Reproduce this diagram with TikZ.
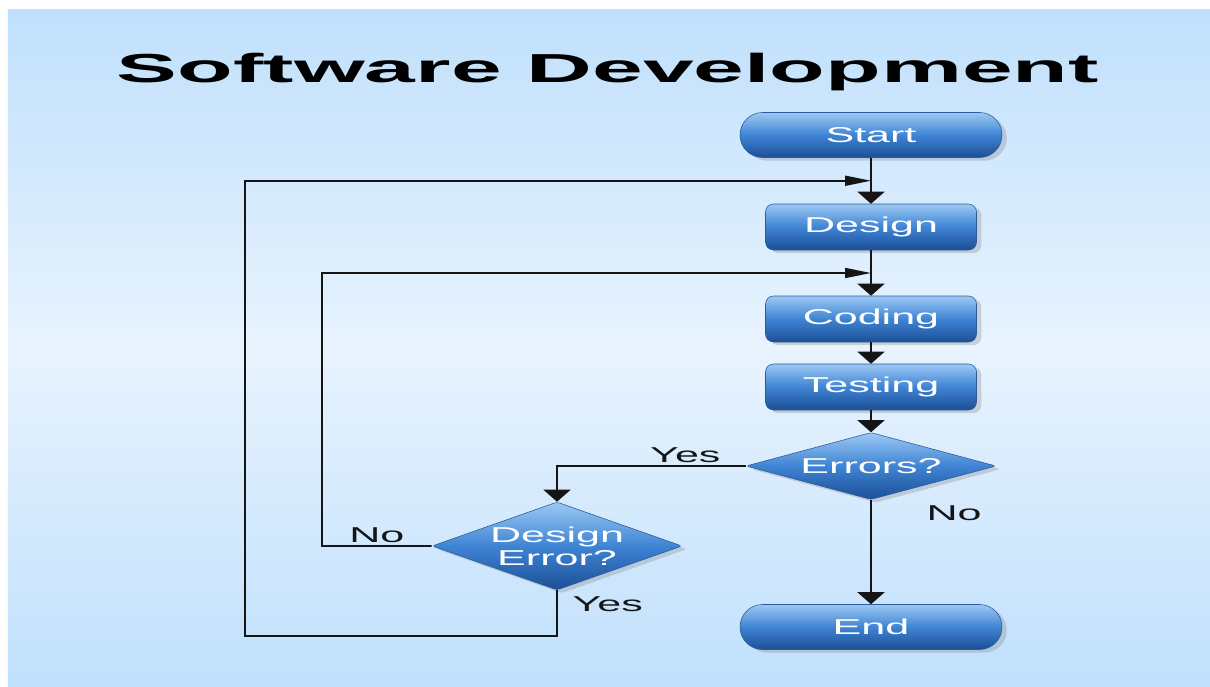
\documentclass[tikz,border=0pt]{standalone}
\usepackage{fontspec}
\setmainfont[FakeStretch=2.0]{Liberation Sans}
\newfontfamily\titlefont[FakeStretch=2.25]{Liberation Sans}
\usetikzlibrary{shapes, arrows.meta, shadows}

\definecolor{bgedge}{HTML}{C0E0FC}
\definecolor{bgmid}{HTML}{E8F3FE}
\definecolor{boxtop}{HTML}{9CC9F3}
\definecolor{boxmid}{HTML}{3F84D4}
\definecolor{boxbottom}{HTML}{1C4F96}
\definecolor{boxline}{HTML}{2A5A98}
\definecolor{wire}{HTML}{151515}

\tikzstyle{blueshade} = [draw=boxline, top color=boxtop, bottom color=boxbottom, middle color=boxmid, text=white, font=\fontsize{15.3}{16.4}\selectfont, drop shadow={opacity=0.3, shadow xshift=0.12cm, shadow yshift=-0.08cm}]
\tikzstyle{startstop} = [rounded rectangle, minimum width=6.55cm, minimum height=1.125cm, inner sep=0pt, text centered, blueshade]
\tikzstyle{process} = [rectangle, rounded corners=0.2cm, minimum width=5.275cm, minimum height=1.15cm, inner sep=0pt, text centered, blueshade]
\tikzstyle{decision} = [diamond, aspect=3.73, rounded corners=2pt, minimum width=6.25cm, minimum height=1.675cm, inner sep=0pt, align=center, blueshade]
\tikzstyle{answer} = [text=wire, inner sep=2pt, font=\fontsize{15.3}{16.4}\selectfont]
\tikzstyle{arrow} = [line width=1.2pt, draw=wire, -{Triangle[length=0.3cm, width=0.675cm]}]
\tikzstyle{sidearrow} = [line width=1.2pt, draw=wire, -{Triangle[length=0.65cm, width=0.25cm]}]

\begin{document}
\begin{tikzpicture}
% backdrop
\useasboundingbox (0,0) rectangle (30.25,-17.175);
\fill[white] (0,0) rectangle (30.25,-17.175);
\shade[top color=bgedge, bottom color=bgedge, middle color=bgmid] (0.2,-0.225) rectangle (30.25,-17.175);
\node (title) at (15.2,-1.8) {\titlefont\bfseries\fontsize{28.8}{32}\selectfont Software Development};

% main column
\node (start) [startstop] at (21.775,-3.375) {Start};
\node (design) [process, node distance=2.3cm, below of=start] {Design};
\node (coding) [process, node distance=2.3cm, below of=design] {Coding};
\node (testing) [process, node distance=1.7cm, below of=coding] {Testing};
\node (errors) [decision, node distance=1.975cm, below of=testing] {Errors?};
\node (end) [startstop, node distance=4.025cm, below of=errors] {End};
\node (deserr) [decision, aspect=2.84, minimum height=2.2cm, node distance=2cm, below of=errors, xshift=-7.85cm] {Design\\Error?};

% loop corners
\coordinate (nocorner) at (8.05,-13.65);
\coordinate (yescorner) at (6.125,-15.9);

\draw[arrow] (start) -- coordinate[midway] (designin) (design);
\draw[arrow] (design) -- coordinate[midway] (codingin) (coding);
\draw[arrow] (coding) -- (testing);
\draw[arrow] (testing) -- (errors);
\draw[arrow] (errors) -- node[answer, pos=0.13, right=1.3cm] {No} (end);
\draw[arrow] (errors.west) -| node[answer, pos=0.16, above] {Yes} (deserr.north);
\draw[sidearrow] (deserr.west) -- node[answer, midway, above] {No} (nocorner) |- (codingin);
\draw[sidearrow] (deserr.south) |- node[answer, pos=0.15, right, xshift=0.3cm] {Yes} (yescorner) |- (designin);
\end{tikzpicture}
\end{document}
